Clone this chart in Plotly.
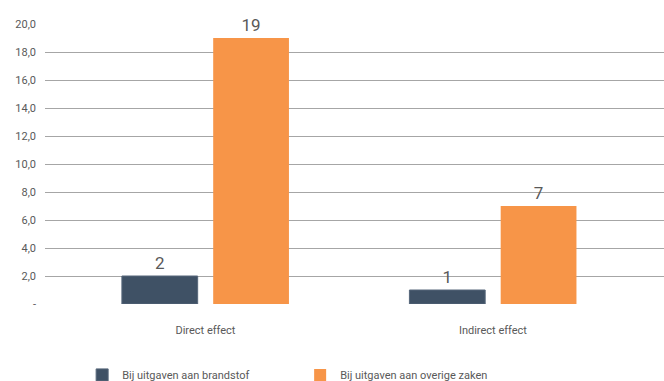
import plotly.graph_objects as go

categories = ["Direct effect", "Indirect effect"]
fuel = [2, 1]
other = [19, 7]
series_names = ["Bij uitgaven aan brandstof", "Bij uitgaven aan overige zaken"]
tick_vals = [0, 2, 4, 6, 8, 10, 12, 14, 16, 18, 20]
tick_text = ["-", "2,0", "4,0", "6,0", "8,0", "10,0", "12,0", "14,0", "16,0", "18,0", "20,0"]

txt = "#595959"
font = "Roboto"

fig = go.Figure()
fig.add_trace(go.Bar(
    x=categories, y=fuel, name=series_names[0],
    marker=dict(color="#3F5165", line=dict(color="#56677a", width=1)),
    text=[str(v) for v in fuel], textposition="outside",
    textfont=dict(size=17, color=txt, family=font), cliponaxis=False,
))
fig.add_trace(go.Bar(
    x=categories, y=other, name=series_names[1],
    marker=dict(color="#F79548", line=dict(width=0)),
    text=[str(v) for v in other], textposition="outside",
    textfont=dict(size=17, color=txt, family=font), cliponaxis=False,
))

fig.update_layout(
    width=664, height=381,
    margin=dict(l=45, r=0, t=24, b=77, autoexpand=False),
    paper_bgcolor="white", plot_bgcolor="white",
    barmode="group", bargap=0.365, bargroupgap=0.17,
    font=dict(family=font, color=txt, size=11),
    showlegend=True,
    legend=dict(
        orientation="h", x=0.06, y=0.016, xanchor="left", yanchor="middle",
        xref="paper", yref="container",
        font=dict(size=11, color=txt, family=font),
        entrywidth=173, entrywidthmode="pixels",
        traceorder="normal",
    ),
    xaxis=dict(
        range=[-0.558, 1.595], showgrid=False, zeroline=False, showline=False,
        ticks="", ticklabelstandoff=18, tickfont=dict(size=11, color=txt),
    ),
    yaxis=dict(
        range=[0, 20], tickvals=tick_vals, ticktext=tick_text,
        showgrid=True, gridcolor="#A6A6A6", gridwidth=1,
        zeroline=False, showline=False, ticks="", ticklabelstandoff=8,
        tickfont=dict(size=11, color=txt),
    ),
)

fig.write_html("out.html")
